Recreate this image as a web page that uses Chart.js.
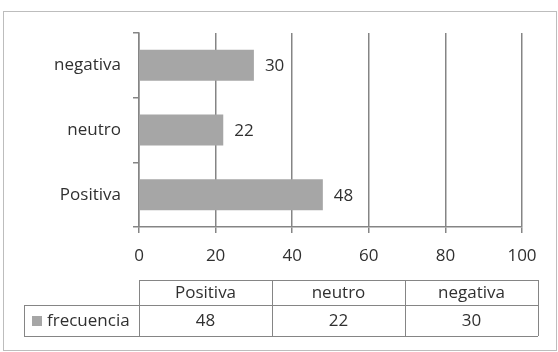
<!DOCTYPE html>
<html>
<head>
<meta charset="utf-8">
<script src="https://cdn.jsdelivr.net/npm/chart.js@4/dist/chart.umd.min.js"></script>
<style>
  html, body { margin: 0; padding: 0; background: #fff; }
  #wrap { width: 558px; height: 352px; }
</style>
</head>
<body>
<div id="wrap"><canvas id="chart" width="558" height="352"></canvas></div>
<script>
// data
const categories = ['Positiva', 'neutro', 'negativa'];
const frecuencia = [48, 22, 30];
const seriesName = 'frecuencia';
const xTicks = [0, 20, 40, 60, 80, 100];

const FONT = { family: '"Open Sans", sans-serif', size: 17 };
const TEXT = '#303030';
const LINE = '#858585';
const BAR = '#a6a6a6';

// outer frame of the chart object
const framePlugin = {
    id: 'frame',
    beforeDraw(chart) {
        const c = chart.ctx;
        c.save();
        c.fillStyle = '#fff';
        c.fillRect(0, 0, chart.width, chart.height);
        c.strokeStyle = '#bdbdbd';
        c.lineWidth = 1;
        c.strokeRect(3.5, 11.5, 553, 339);
        c.restore();
    }
};

// value labels at the end of each bar
const valueLabels = {
    id: 'valueLabels',
    afterDatasetsDraw(chart) {
        const c = chart.ctx;
        const meta = chart.getDatasetMeta(0);
        c.save();
        c.font = FONT.size + 'px ' + FONT.family;
        c.fillStyle = TEXT;
        c.textAlign = 'left';
        c.textBaseline = 'middle';
        meta.data.forEach((bar, i) => {
            c.fillText(String(frecuencia[i]), bar.x + 11, bar.y + 1);
        });
        c.restore();
    }
};

// data table under the axis
const dataTable = {
    id: 'dataTable',
    afterDraw(chart) {
        const c = chart.ctx;
        const left = chart.chartArea.left;
        const colW = 133;
        const legendLeft = 24;
        const rows = [280, 305, 336];
        const right = left + colW * categories.length;

        c.save();
        c.strokeStyle = LINE;
        c.lineWidth = 1;
        c.beginPath();
        // horizontals
        c.moveTo(left, rows[0] + 0.5); c.lineTo(right, rows[0] + 0.5);
        c.moveTo(legendLeft, rows[1] + 0.5); c.lineTo(right, rows[1] + 0.5);
        c.moveTo(legendLeft, rows[2] + 0.5); c.lineTo(right, rows[2] + 0.5);
        // verticals
        c.moveTo(legendLeft + 0.5, rows[1]); c.lineTo(legendLeft + 0.5, rows[2]);
        for (let i = 0; i <= categories.length; i++) {
            const x = Math.round(left + colW * i) + 0.5;
            c.moveTo(x, rows[0]); c.lineTo(x, rows[2]);
        }
        c.stroke();

        c.font = FONT.size + 'px ' + FONT.family;
        c.fillStyle = TEXT;
        c.textAlign = 'center';
        c.textBaseline = 'middle';
        categories.forEach((cat, i) => {
            const cx = left + colW * i + colW / 2;
            c.fillText(cat, cx, (rows[0] + rows[1]) / 2 + 1);
            c.fillText(String(frecuencia[i]), cx, (rows[1] + rows[2]) / 2 + 1);
        });

        // legend key
        c.fillStyle = BAR;
        c.fillRect(32, 316, 10, 10);
        c.fillStyle = TEXT;
        c.textAlign = 'left';
        c.fillText(seriesName, 47, (rows[1] + rows[2]) / 2 + 1);
        c.restore();
    }
};

new Chart(document.getElementById('chart').getContext('2d'), {
    type: 'bar',
    data: {
        labels: categories,
        datasets: [{
            label: seriesName,
            data: frecuencia,
            backgroundColor: BAR,
            borderWidth: 0,
            categoryPercentage: 1,
            barPercentage: 0.48
        }]
    },
    options: {
        indexAxis: 'y',
        responsive: false,
        animation: false,
        layout: { padding: { left: 0, top: 33, right: 36, bottom: 85 } },
        plugins: {
            legend: { display: false },
            tooltip: { enabled: false }
        },
        scales: {
            x: {
                min: 0,
                max: 100,
                afterBuildTicks: (scale) => { scale.ticks = xTicks.map(v => ({ value: v })); },
                afterFit: (scale) => { scale.height = 40; },
                grid: { color: LINE, lineWidth: 1.5, tickLength: 6 },
                border: { color: LINE, width: 1.5 },
                ticks: { color: TEXT, font: FONT, padding: 13, maxRotation: 0 }
            },
            y: {
                reverse: true,
                afterFit: (scale) => { scale.width = 139; },
                grid: { drawOnChartArea: false, color: LINE, lineWidth: 1.5, tickLength: 6, offset: true },
                border: { color: LINE, width: 1.5 },
                ticks: { color: TEXT, font: FONT, padding: 12 }
            }
        }
    },
    plugins: [framePlugin, valueLabels, dataTable]
});
</script>
</body>
</html>
